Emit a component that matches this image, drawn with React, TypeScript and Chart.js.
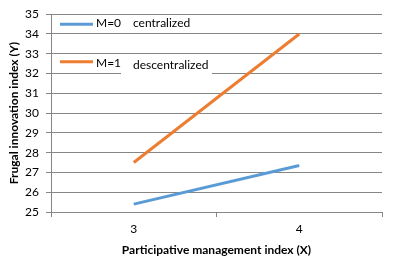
import React, { useEffect, useRef } from "react";
import { Chart, registerables } from "chart.js";

Chart.register(...registerables);

const categories = ["3", "4"];
const seriesLabels = ["M=0", "M=1"];
const seriesNotes = ["centralized", "descentralized"];
const seriesM0 = [25.4, 27.35];
const seriesM1 = [27.5, 34.0];
const seriesColors = ["#5B9BD5", "#ED7D31"];
const yMin = 25;
const yMax = 35;
const xTitle = "Participative management index (X)";
const yTitle = "Frugal innovation index (Y)";

const FONT = "Lato, 'Open Sans', sans-serif";

const insideLegend = {
  id: "insideLegend",
  afterDraw(chart: any) {
    const { ctx, chartArea } = chart;
    const L = chartArea.left;
    const T = chartArea.top;
    ctx.save();
    // white text box behind second note
    ctx.fillStyle = "#ffffff";
    ctx.fillRect(L + 70, T + 41, 91, 22);
    const rows = [
      { lineY: T + 10, labelY: T + 9, noteY: T + 9 },
      { lineY: T + 47.5, labelY: T + 48.5, noteY: T + 51 },
    ];
    chart.data.datasets.forEach((ds: any, i: number) => {
      const r = rows[i];
      ctx.strokeStyle = ds.borderColor;
      ctx.lineWidth = 3;
      ctx.beginPath();
      ctx.moveTo(L + 9, r.lineY);
      ctx.lineTo(L + 42, r.lineY);
      ctx.stroke();
      ctx.fillStyle = "#000000";
      ctx.font = `12px ${FONT}`;
      ctx.textBaseline = "middle";
      ctx.textAlign = "left";
      ctx.fillText(ds.label, L + 45, r.labelY);
      ctx.fillText(seriesNotes[i], L + 82, r.noteY);
    });
    ctx.restore();
  },
};

export default function App() {
  const ref = useRef<HTMLCanvasElement | null>(null);
  useEffect(() => {
    if (!ref.current) return;
    const chart = new Chart(ref.current, {
      type: "line",
      data: {
        labels: categories,
        datasets: [
          {
            label: seriesLabels[0],
            data: seriesM0,
            borderColor: seriesColors[0],
            backgroundColor: seriesColors[0],
            borderWidth: 3,
            pointRadius: 0,
            tension: 0,
          },
          {
            label: seriesLabels[1],
            data: seriesM1,
            borderColor: seriesColors[1],
            backgroundColor: seriesColors[1],
            borderWidth: 3,
            pointRadius: 0,
            tension: 0,
          },
        ],
      },
      options: {
        animation: false,
        responsive: false,
        maintainAspectRatio: false,
        layout: { padding: { top: 13, right: 15, left: 0, bottom: 0 } },
        plugins: {
          legend: { display: false },
          tooltip: { enabled: false },
        },
        scales: {
          x: {
            type: "category",
            offset: true,
            grid: {
              display: true,
              offset: true,
              drawOnChartArea: false,
              drawTicks: true,
              tickLength: 5,
              color: "#868686",
            },
            border: { display: true, color: "#868686" },
            ticks: {
              color: "#000000",
              font: { family: FONT, size: 12 },
              padding: 5,
            },
            title: {
              display: true,
              text: xTitle,
              color: "#000000",
              font: { family: FONT, size: 12, weight: "bold" },
              padding: { top: 0, bottom: 4 },
            },
            afterFit: (s: any) => {
              s.height = 49;
            },
          },
          y: {
            min: yMin,
            max: yMax,
            ticks: {
              stepSize: 1,
              color: "#000000",
              font: { family: FONT, size: 12 },
              padding: 7,
            },
            grid: {
              color: "#868686",
              tickLength: 5,
            },
            border: { display: true, color: "#868686" },
            title: {
              display: true,
              text: yTitle,
              color: "#000000",
              font: { family: FONT, size: 12, weight: "bold" },
              padding: { top: 7, bottom: 0 },
            },
            afterFit: (s: any) => {
              s.width = 51;
            },
          },
        },
      },
      plugins: [insideLegend],
    });
    return () => chart.destroy();
  }, []);
  return (
    <div style={{ position: "absolute", left: 0, top: 0, width: 397, height: 261, background: "#fff" }}>
      <canvas ref={ref} width={397} height={261} style={{ display: "block" }} />
    </div>
  );
}
